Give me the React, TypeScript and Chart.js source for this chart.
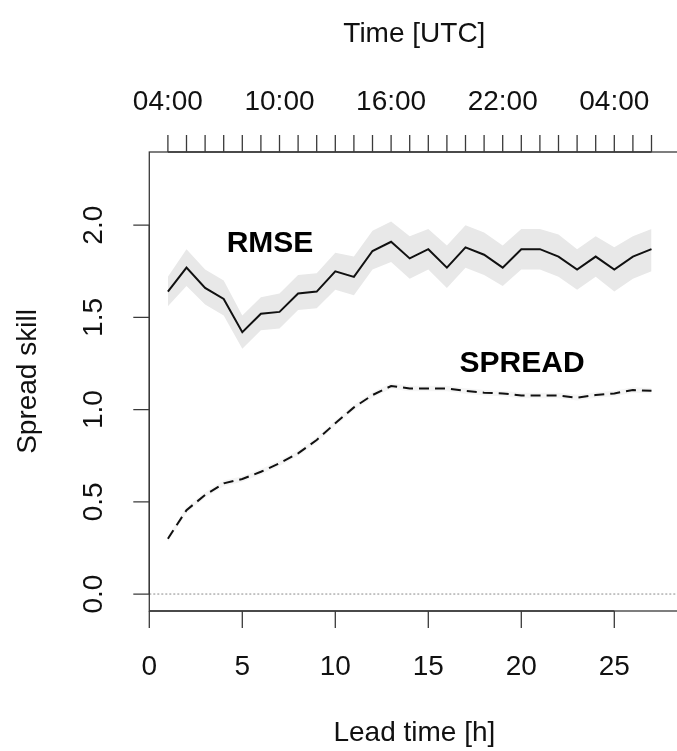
import React, { useEffect, useRef } from "react";
import { Chart, registerables } from "chart.js";

Chart.register(...registerables);

const LEAD = [1, 2, 3, 4, 5, 6, 7, 8, 9, 10, 11, 12, 13, 14, 15, 16, 17, 18, 19, 20, 21, 22, 23, 24, 25, 26, 27];
const RMSE = [1.64, 1.77, 1.66, 1.60, 1.42, 1.52, 1.53, 1.63, 1.64, 1.75, 1.72, 1.86, 1.91, 1.82, 1.87, 1.77, 1.88, 1.84, 1.77, 1.87, 1.87, 1.83, 1.76, 1.83, 1.76, 1.83, 1.87];
const RMSE_UPPER = [1.72, 1.87, 1.76, 1.70, 1.51, 1.61, 1.63, 1.73, 1.74, 1.85, 1.83, 1.97, 2.02, 1.94, 1.98, 1.89, 2.00, 1.96, 1.89, 1.98, 1.98, 1.95, 1.87, 1.94, 1.88, 1.94, 1.98];
const RMSE_LOWER = [1.56, 1.67, 1.57, 1.51, 1.33, 1.43, 1.44, 1.54, 1.55, 1.65, 1.62, 1.76, 1.80, 1.71, 1.76, 1.66, 1.77, 1.73, 1.67, 1.76, 1.76, 1.72, 1.65, 1.72, 1.64, 1.71, 1.75];
const SPREAD = [0.30, 0.455, 0.537, 0.60, 0.624, 0.663, 0.709, 0.763, 0.835, 0.926, 1.012, 1.079, 1.128, 1.115, 1.115, 1.115, 1.101, 1.092, 1.088, 1.076, 1.076, 1.076, 1.065, 1.079, 1.088, 1.106, 1.102];
const SPREAD_UPPER = [0.315, 0.47, 0.552, 0.615, 0.639, 0.678, 0.724, 0.778, 0.85, 0.941, 1.027, 1.094, 1.143, 1.13, 1.13, 1.13, 1.116, 1.107, 1.103, 1.091, 1.091, 1.091, 1.08, 1.094, 1.103, 1.121, 1.117];
const SPREAD_LOWER = [0.285, 0.44, 0.522, 0.585, 0.609, 0.648, 0.694, 0.748, 0.82, 0.911, 0.997, 1.064, 1.113, 1.1, 1.1, 1.1, 1.086, 1.077, 1.073, 1.061, 1.061, 1.061, 1.05, 1.064, 1.073, 1.091, 1.087];

const X_TICKS = [0, 5, 10, 15, 20, 25];
const Y_TICKS = [0, 0.5, 1.0, 1.5, 2.0];
const Y_TICK_LABELS = ["0.0", "0.5", "1.0", "1.5", "2.0"];
const TOP_TICKS = LEAD;
const TOP_LABEL_POS = [1, 7, 13, 19, 25];
const TOP_LABELS = ["04:00", "10:00", "16:00", "22:00", "04:00"];

const X_MIN = 0;
const X_MAX = 28.5;
const Y_MIN = -0.092;
const Y_MAX = 2.397;

const FONT = '"Liberation Sans", Arial, Helvetica, sans-serif';

function pts(ys: number[]) {
  return LEAD.map((x, i) => ({ x, y: ys[i] }));
}

const axesPlugin = {
  id: "rAxes",
  afterDraw(chart: any) {
    const { ctx, chartArea, scales } = chart;
    const xs = scales.x;
    const ys = scales.y;
    const { left, right, top, bottom } = chartArea;
    ctx.save();
    ctx.strokeStyle = "#3a3a3a";
    ctx.fillStyle = "#111";
    ctx.lineWidth = 1.3;

    // box
    ctx.strokeRect(left, top, right - left, bottom - top);

    ctx.beginPath();
    // bottom axis
    ctx.moveTo(xs.getPixelForValue(X_TICKS[0]), bottom);
    ctx.lineTo(xs.getPixelForValue(X_TICKS[X_TICKS.length - 1]), bottom);
    X_TICKS.forEach((v) => {
      const px = xs.getPixelForValue(v);
      ctx.moveTo(px, bottom);
      ctx.lineTo(px, bottom + 17);
    });
    // top axis
    ctx.moveTo(xs.getPixelForValue(TOP_TICKS[0]), top);
    ctx.lineTo(xs.getPixelForValue(TOP_TICKS[TOP_TICKS.length - 1]), top);
    TOP_TICKS.forEach((v) => {
      const px = xs.getPixelForValue(v);
      ctx.moveTo(px, top);
      ctx.lineTo(px, top - 17);
    });
    // left axis
    ctx.moveTo(left, ys.getPixelForValue(Y_TICKS[0]));
    ctx.lineTo(left, ys.getPixelForValue(Y_TICKS[Y_TICKS.length - 1]));
    Y_TICKS.forEach((v) => {
      const py = ys.getPixelForValue(v);
      ctx.moveTo(left, py);
      ctx.lineTo(left - 16, py);
    });
    ctx.stroke();

    ctx.font = `28px ${FONT}`;
    ctx.textAlign = "center";
    ctx.textBaseline = "alphabetic";
    X_TICKS.forEach((v) => {
      ctx.fillText(String(v), xs.getPixelForValue(v), 675);
    });
    TOP_LABEL_POS.forEach((v, i) => {
      ctx.fillText(TOP_LABELS[i], xs.getPixelForValue(v), 110);
    });
    Y_TICKS.forEach((v, i) => {
      ctx.save();
      ctx.translate(102, ys.getPixelForValue(v));
      ctx.rotate(-Math.PI / 2);
      ctx.fillText(Y_TICK_LABELS[i], 0, 0);
      ctx.restore();
    });

    const cx = (left + right) / 2;
    ctx.fillText("Time [UTC]", cx, 42);
    ctx.fillText("Lead time [h]", cx, 741);
    ctx.save();
    ctx.translate(36, (top + bottom) / 2);
    ctx.rotate(-Math.PI / 2);
    ctx.fillText("Spread skill", 0, 0);
    ctx.restore();

    ctx.font = `bold 30px ${FONT}`;
    ctx.fillStyle = "#000";
    ctx.fillText("RMSE", xs.getPixelForValue(6.49), ys.getPixelForValue(1.913) + 10.7);
    ctx.fillText("SPREAD", xs.getPixelForValue(20.04), ys.getPixelForValue(1.263) + 10.7);
    ctx.restore();
  },
};

export default function App() {
  const ref = useRef<HTMLCanvasElement | null>(null);
  useEffect(() => {
    if (!ref.current) return;
    const chart = new Chart(ref.current, {
      type: "line",
      data: {
        datasets: [
          {
            label: "RMSE",
            data: pts(RMSE),
            borderColor: "#111",
            borderWidth: 2,
            pointRadius: 0,
            fill: false,
          },
          {
            label: "SPREAD",
            data: pts(SPREAD),
            borderColor: "#111",
            borderWidth: 2,
            borderDash: [10, 6],
            pointRadius: 0,
            fill: false,
          },
          {
            data: pts(RMSE_LOWER),
            borderWidth: 0,
            borderColor: "rgba(0,0,0,0)",
            pointRadius: 0,
            fill: false,
          },
          {
            data: pts(RMSE_UPPER),
            borderWidth: 0,
            borderColor: "rgba(0,0,0,0)",
            backgroundColor: "#e8e8e8",
            pointRadius: 0,
            fill: "-1",
          },
          {
            data: pts(SPREAD_LOWER),
            borderWidth: 0,
            borderColor: "rgba(0,0,0,0)",
            pointRadius: 0,
            fill: false,
          },
          {
            data: pts(SPREAD_UPPER),
            borderWidth: 0,
            borderColor: "rgba(0,0,0,0)",
            backgroundColor: "#f5f5f5",
            pointRadius: 0,
            fill: "-1",
          },
          {
            data: [{ x: X_MIN, y: 0 }, { x: X_MAX, y: 0 }],
            borderColor: "#8a8a8a",
            borderWidth: 1,
            borderDash: [2, 2],
            pointRadius: 0,
            fill: false,
          },
        ],
      },
      options: {
        responsive: false,
        animation: false,
        devicePixelRatio: 1,
        layout: { padding: { left: 149.3, top: 152, right: 40.6, bottom: 140 } },
        scales: {
          x: { type: "linear", min: X_MIN, max: X_MAX, display: false },
          y: { type: "linear", min: Y_MIN, max: Y_MAX, display: false },
        },
        plugins: { legend: { display: false }, tooltip: { enabled: false } },
        elements: { line: { tension: 0 } },
      },
      plugins: [axesPlugin],
    });
    return () => chart.destroy();
  }, []);
  return (
    <div
      style={{
        position: "fixed",
        left: 0,
        top: 0,
        width: 677,
        height: 751,
        overflow: "hidden",
        background: "#fff",
      }}
    >
      <canvas ref={ref} width={720} height={751} style={{ display: "block" }} />
    </div>
  );
}
